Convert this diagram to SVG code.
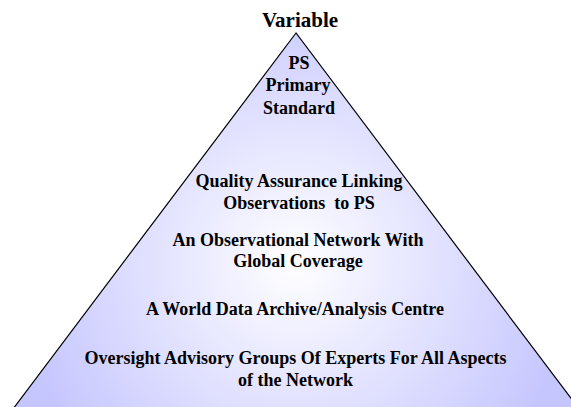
<svg xmlns="http://www.w3.org/2000/svg" width="571" height="407" viewBox="0 0 571 407">
<defs>
<radialGradient id="glow" gradientUnits="userSpaceOnUse" cx="295" cy="262" r="280">
<stop offset="0" stop-color="#FFFFFF"/>
<stop offset="0.15" stop-color="#F6F6FF"/>
<stop offset="1" stop-color="#C6C6FF"/>
</radialGradient>
</defs>
<style>
.t{font-family:"Liberation Serif","Times New Roman","DejaVu Serif",serif;font-weight:bold;font-size:18px;fill:#000;text-anchor:middle;white-space:pre}
.title{font-size:21px}
</style>
<rect width="571" height="407" fill="#FFFFFF"/>
<g id="pyramid">
<polygon points="296,33 13,409 579,409" fill="url(#glow)" stroke="#000" stroke-width="1.2"/>
</g>
<g id="connectors"></g>
<g id="title"><text class="t title" x="300" y="27">Variable</text></g>
<g id="ps">
<text class="t" x="299" y="68.5">PS</text>
<text class="t" x="298" y="91">Primary</text>
<text class="t" x="299" y="113.5">Standard</text>
</g>
<g id="qa">
<text class="t" x="299" y="187">Quality Assurance Linking</text>
<text class="t" x="299" y="208.5" xml:space="preserve">Observations  to PS</text>
</g>
<g id="network">
<text class="t" x="298" y="246">An Observational Network With</text>
<text class="t" x="298" y="267">Global Coverage</text>
</g>
<g id="archive">
<text class="t" x="295" y="315">A World Data Archive/Analysis Centre</text>
</g>
<g id="oversight">
<text class="t" x="295.5" y="364">Oversight Advisory Groups Of Experts For All Aspects</text>
<text class="t" x="295.5" y="386">of the Network</text>
</g>
</svg>
